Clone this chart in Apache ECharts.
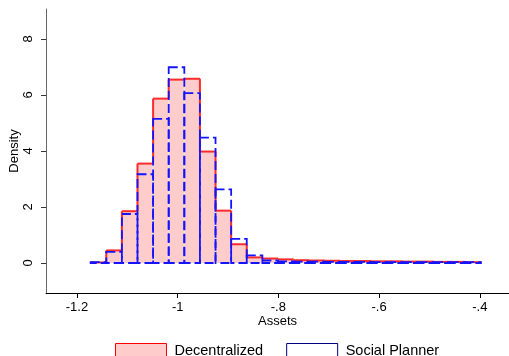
<!DOCTYPE html>
<html>
<head>
<meta charset="utf-8">
<script src="https://cdn.jsdelivr.net/npm/echarts@6/dist/echarts.min.js"></script>
<style>
  html, body { margin: 0; padding: 0; background: #fff; }
  #chart { width: 509px; height: 356px; }
</style>
</head>
<body>
<div id="chart"></div>
<script>
// histogram bins: 25 equal bins
var binStart = -1.1728;
var binWidth = 0.031;
var decentralized = [0.02, 0.45, 1.85, 3.55, 5.87, 6.55, 6.58, 3.98, 1.87, 0.67, 0.20, 0.16, 0.13,
    0.10, 0.09, 0.08, 0.07, 0.07, 0.06, 0.06, 0.05, 0.05, 0.04, 0.04, 0.03];
var socialPlanner = [0.03, 0.40, 1.75, 3.17, 5.15, 6.99, 6.07, 4.48, 2.63, 0.86, 0.27, 0.09, 0.06,
    0.05, 0.05, 0.04, 0.04, 0.04, 0.03, 0.03, 0.03, 0.03, 0.03, 0.03, 0.03];
var xTicks = [-1.2, -1, -0.8, -0.6, -0.4];
var yTicks = [0, 2, 4, 6, 8];

var font = 'Liberation Sans, Arial, sans-serif';

function toData(arr) {
    return arr.map(function (v, i) { return [i, v]; });
}

// pink bars: red step outline on the outside, light seams between bars
function renderFilled(params, api) {
    var i = api.value(0);
    var h = api.value(1);
    var prev = i > 0 ? decentralized[i - 1] : 0;
    var next = i < decentralized.length - 1 ? decentralized[i + 1] : 0;
    var x0 = binStart + i * binWidth, x1 = x0 + binWidth;
    var p0 = api.coord([x0, h]);
    var p1 = api.coord([x1, 0]);
    var red = { stroke: '#ff2a2a', lineWidth: 2 };
    var kids = [
        { type: 'rect', shape: { x: p0[0], y: p0[1], width: p1[0] - p0[0], height: p1[1] - p0[1] },
          style: { fill: '#ffcccc' } },
        { type: 'line', shape: { x1: p0[0], y1: p0[1], x2: p0[0], y2: p1[1] },
          style: { stroke: '#f6e4ea', lineWidth: 1 } },
        { type: 'line', shape: { x1: p0[0], y1: p0[1], x2: p1[0], y2: p0[1] }, style: red }
    ];
    if (h > prev) {
        var a = api.coord([x0, prev]);
        kids.push({ type: 'line', shape: { x1: p0[0], y1: p0[1], x2: p0[0], y2: a[1] }, style: red });
    }
    if (h > next) {
        var b = api.coord([x1, next]);
        kids.push({ type: 'line', shape: { x1: p1[0], y1: p0[1], x2: p1[0], y2: b[1] }, style: red });
    }
    return { type: 'group', children: kids };
}

function renderDashed(params, api) {
    var i = api.value(0);
    var p0 = api.coord([binStart + i * binWidth, api.value(1)]);
    var p1 = api.coord([binStart + (i + 1) * binWidth, 0]);
    return {
        type: 'rect',
        shape: { x: p0[0], y: p0[1], width: p1[0] - p0[0], height: p1[1] - p0[1] },
        style: { fill: 'none', stroke: '#1414ff', lineWidth: 1.8, lineDash: [9, 4] }
    };
}

// strip the leading zero like "-.8"
function fmt(v) {
    var s = String(Math.round(v * 10) / 10);
    return s.replace(/^(-?)0\./, '$1.');
}

var chart = echarts.init(document.getElementById('chart'), null, { renderer: 'canvas' });

var option = {
    backgroundColor: '#ffffff',
    animation: false,
    grid: { left: 46, right: 0, top: 9, bottom: 63, outerBoundsMode: 'none', containLabel: false },
    legend: {
        left: 115,
        top: 343,
        padding: 0,
        icon: 'rect',
        itemWidth: 51,
        itemHeight: 14,
        itemGap: 23,
        textStyle: { fontSize: 14.5, color: '#000', fontFamily: font, padding: [0, 0, 0, 3] },
        data: [
            { name: 'Decentralized', itemStyle: { color: '#ffcccc', borderColor: '#ff0000', borderWidth: 1 } },
            { name: 'Social Planner', itemStyle: { color: '#ffffff', borderColor: '#000080', borderWidth: 1 } }
        ]
    },
    xAxis: {
        type: 'value',
        min: -1.2615,
        max: -0.342,
        name: 'Assets',
        nameLocation: 'middle',
        nameGap: 22,
        nameMoveOverlap: false,
        nameTextStyle: { fontSize: 13, color: '#000', fontFamily: font },
        axisLine: { onZero: false, lineStyle: { color: '#000', width: 1 } },
        axisTick: { show: true, length: 5, customValues: xTicks, lineStyle: { color: '#000' } },
        axisLabel: {
            customValues: xTicks, margin: 8, fontSize: 13, color: '#000', fontFamily: font,
            formatter: fmt
        },
        splitLine: { show: false }
    },
    yAxis: {
        type: 'value',
        min: -1.071,
        max: 9.071,
        name: 'Density',
        nameLocation: 'middle',
        nameRotate: 90,
        nameGap: 25,
        nameMoveOverlap: false,
        nameTextStyle: { fontSize: 13, color: '#000', fontFamily: font },
        axisLine: { show: true, onZero: false, lineStyle: { color: '#666', width: 1 } },
        axisTick: { show: true, length: 5, customValues: yTicks, lineStyle: { color: '#333' } },
        axisLabel: {
            customValues: yTicks, rotate: 90, margin: 11, fontSize: 13, color: '#000', fontFamily: font
        },
        splitLine: { show: false }
    },
    series: [
        {
            name: 'Decentralized',
            type: 'custom',
            itemStyle: { color: '#ffcccc', borderColor: '#ff0000' },
            renderItem: renderFilled,
            data: toData(decentralized)
        },
        {
            name: 'Social Planner',
            type: 'custom',
            itemStyle: { color: '#ffffff', borderColor: '#000080' },
            renderItem: renderDashed,
            data: toData(socialPlanner)
        }
    ]
};

chart.setOption(option);
</script>
</body>
</html>
